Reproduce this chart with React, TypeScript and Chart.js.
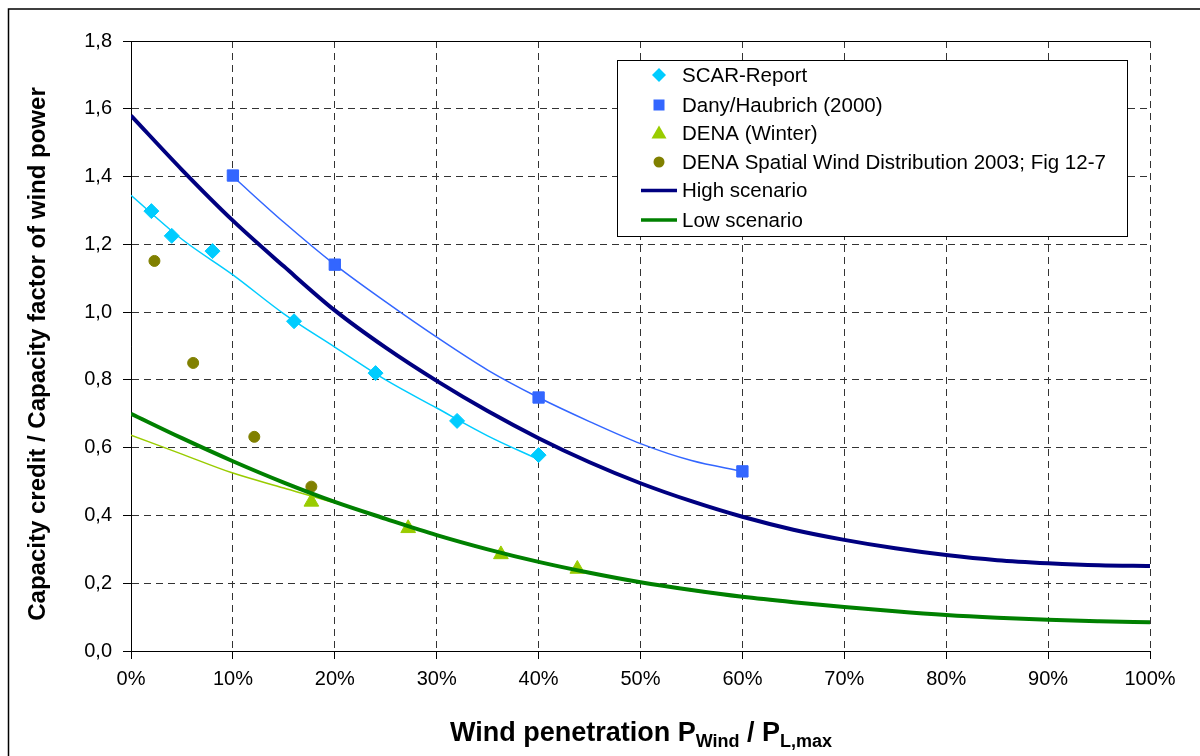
import React, { useEffect, useRef } from 'react';
import { Chart, registerables } from 'chart.js';

Chart.register(...registerables);

// ---------- data ----------
const scarX = [2, 4, 8, 16, 24, 32, 40];
const scarY = [1.298, 1.225, 1.18, 0.973, 0.82, 0.679, 0.578];

const danyX = [10, 20, 40, 60];
const danyY = [1.403, 1.14, 0.748, 0.53];

const denaWinterX = [17.7, 27.2, 36.3, 43.8];
const denaWinterY = [0.44, 0.362, 0.285, 0.242];

const denaSpatialX = [2.3, 6.1, 12.1, 17.7];
const denaSpatialY = [1.151, 0.85, 0.632, 0.485];

const scenarioX = [0, 5, 10, 15, 20, 25, 30, 35, 40, 45, 50, 55, 60, 65, 70, 75, 80, 85, 90, 95, 100];
const highY = [1.58, 1.42, 1.27, 1.135, 1.005, 0.895, 0.797, 0.708, 0.628, 0.557, 0.495, 0.442, 0.396, 0.358, 0.328, 0.303, 0.283, 0.268, 0.259, 0.253, 0.251];
const lowY = [0.7, 0.628, 0.56, 0.497, 0.44, 0.39, 0.342, 0.3, 0.263, 0.231, 0.203, 0.18, 0.16, 0.144, 0.13, 0.117, 0.106, 0.098, 0.092, 0.088, 0.085];

const scarTrendX = [0, 5, 10, 15, 20, 25, 30, 35, 40];
const scarTrendY = [1.345, 1.215, 1.11, 0.995, 0.897, 0.8, 0.717, 0.635, 0.565];

const danyTrendX = [10, 15, 20, 25, 30, 35, 40, 45, 50, 55, 60];
const danyTrendY = [1.4, 1.265, 1.14, 1.03, 0.926, 0.829, 0.748, 0.677, 0.612, 0.562, 0.53];

const denaTrendX = [0, 5, 10, 15, 20, 25, 30, 35, 40, 45, 50, 55, 60, 65, 70, 75, 80, 85, 89];
const denaTrendY = [0.637, 0.581, 0.525, 0.481, 0.437, 0.39, 0.343, 0.3, 0.262, 0.23, 0.202, 0.178, 0.158, 0.142, 0.128, 0.116, 0.105, 0.097, 0.092];

const legendLabels = [
  'SCAR-Report',
  'Dany/Haubrich (2000)',
  'DENA (Winter)',
  'DENA Spatial Wind Distribution 2003; Fig 12-7',
  'High scenario',
  'Low scenario',
];

const yTitle = 'Capacity credit / Capacity factor of wind power';
const xTitleParts = [
  { text: 'Wind penetration P', sub: false },
  { text: 'Wind', sub: true },
  { text: ' / P', sub: false },
  { text: 'L,max', sub: true },
];

const C_SCAR = '#00CCFF';
const C_DANY = '#3366FF';
const C_DENA = '#99CC00';
const C_SPATIAL = '#808000';
const C_HIGH = '#000080';
const C_LOW = '#008000';

const FONT = '"Liberation Sans", Arial, Helvetica, sans-serif';

const pts = (xs: number[], ys: number[]) => xs.map((x, i) => ({ x, y: ys[i] }));

const decorPlugin = {
  id: 'decor',
  afterDraw(chart: any) {
    const ctx: CanvasRenderingContext2D = chart.ctx;
    ctx.save();

    // outer frame (left + top)
    ctx.strokeStyle = '#000';
    ctx.lineWidth = 1.5;
    ctx.beginPath();
    ctx.moveTo(1200, 9);
    ctx.lineTo(8.5, 9);
    ctx.lineTo(8.5, 756);
    ctx.stroke();

    // legend box
    const bx = 617.5, by = 60.5, bw = 510, bh = 176;
    ctx.fillStyle = '#fff';
    ctx.fillRect(bx, by, bw, bh);
    ctx.lineWidth = 1;
    ctx.strokeStyle = '#000';
    ctx.strokeRect(bx, by, bw, bh);

    const rowsY = [75, 105, 133, 162, 190.5, 220];
    const mx = 659;
    // diamond
    ctx.fillStyle = C_SCAR;
    ctx.beginPath();
    ctx.moveTo(mx, rowsY[0] - 7);
    ctx.lineTo(mx + 7, rowsY[0]);
    ctx.lineTo(mx, rowsY[0] + 7);
    ctx.lineTo(mx - 7, rowsY[0]);
    ctx.closePath();
    ctx.fill();
    // square
    ctx.fillStyle = C_DANY;
    ctx.fillRect(mx - 5.5, rowsY[1] - 5.5, 11, 11);
    // triangle
    ctx.fillStyle = C_DENA;
    ctx.beginPath();
    ctx.moveTo(mx, rowsY[2] - 7.5);
    ctx.lineTo(mx + 7.5, rowsY[2] + 5.5);
    ctx.lineTo(mx - 7.5, rowsY[2] + 5.5);
    ctx.closePath();
    ctx.fill();
    // circle
    ctx.fillStyle = C_SPATIAL;
    ctx.beginPath();
    ctx.arc(mx, rowsY[3], 5.5, 0, Math.PI * 2);
    ctx.fill();
    // lines
    ctx.lineWidth = 3.5;
    ctx.strokeStyle = C_HIGH;
    ctx.beginPath();
    ctx.moveTo(641, rowsY[4]);
    ctx.lineTo(677, rowsY[4]);
    ctx.stroke();
    ctx.strokeStyle = C_LOW;
    ctx.beginPath();
    ctx.moveTo(641, rowsY[5]);
    ctx.lineTo(677, rowsY[5]);
    ctx.stroke();

    ctx.fillStyle = '#000';
    ctx.font = `20.5px ${FONT}`;
    ctx.textAlign = 'left';
    ctx.textBaseline = 'middle';
    legendLabels.forEach((t, i) => ctx.fillText(t, 682, rowsY[i] + 1));

    // y title
    ctx.save();
    ctx.translate(45, 354);
    ctx.rotate(-Math.PI / 2);
    ctx.font = `bold 24px ${FONT}`;
    ctx.textAlign = 'center';
    ctx.textBaseline = 'alphabetic';
    ctx.fillText(yTitle, 0, 0);
    ctx.restore();

    // x title with subscripts
    const mainFont = `bold 27px ${FONT}`;
    const subFont = `bold 18px ${FONT}`;
    let total = 0;
    const widths = xTitleParts.map((p) => {
      ctx.font = p.sub ? subFont : mainFont;
      const w = ctx.measureText(p.text).width;
      total += w;
      return w;
    });
    let x = 641 - total / 2;
    ctx.textAlign = 'left';
    ctx.textBaseline = 'alphabetic';
    xTitleParts.forEach((p, i) => {
      ctx.font = p.sub ? subFont : mainFont;
      ctx.fillText(p.text, x, p.sub ? 747 : 741);
      x += widths[i];
    });

    ctx.restore();
  },
};

export default function App() {
  const ref = useRef<HTMLCanvasElement | null>(null);

  useEffect(() => {
    if (!ref.current) return;
    const lineDs = (label: string, data: any, color: string, width: number) => ({
      label,
      data,
      showLine: true,
      borderColor: color,
      backgroundColor: color,
      borderWidth: width,
      pointRadius: 0,
      pointHoverRadius: 0,
      cubicInterpolationMode: 'monotone' as const,
      fill: false,
    });
    const ptDs = (label: string, data: any, color: string, style: string, radius: number) => ({
      label,
      data,
      showLine: false,
      pointStyle: style,
      pointRadius: radius,
      pointHoverRadius: radius,
      backgroundColor: color,
      borderColor: color,
      pointBorderWidth: 1,
    });

    const chart = new Chart(ref.current, {
      type: 'scatter',
      data: {
        datasets: [
          lineDs('Low scenario', pts(scenarioX, lowY), C_LOW, 4),
          lineDs('High scenario', pts(scenarioX, highY), C_HIGH, 4),
          ptDs('SCAR-Report', pts(scarX, scarY), C_SCAR, 'rectRot', 7.5),
          ptDs('Dany/Haubrich (2000)', pts(danyX, danyY), C_DANY, 'rect', 8),
          ptDs('DENA (Winter)', pts(denaWinterX, denaWinterY), C_DENA, 'triangle', 8.5),
          ptDs('DENA Spatial Wind Distribution 2003; Fig 12-7', pts(denaSpatialX, denaSpatialY), C_SPATIAL, 'circle', 5.5),
          lineDs('SCAR trend', pts(scarTrendX, scarTrendY), C_SCAR, 1.5),
          lineDs('Dany trend', pts(danyTrendX, danyTrendY), C_DANY, 1.5),
          lineDs('DENA trend', pts(denaTrendX, denaTrendY), C_DENA, 1.5),
        ] as any,
      },
      options: {
        responsive: false,
        maintainAspectRatio: false,
        animation: false,
        devicePixelRatio: 1,
        layout: { padding: { top: 41, right: 50, left: 0, bottom: 0 } },
        plugins: {
          legend: { display: false },
          tooltip: { enabled: false },
          title: { display: false },
        },
        scales: {
          x: {
            type: 'linear',
            position: 'bottom',
            min: 0,
            max: 100,
            afterFit: (s: any) => {
              s.height = 105;
            },
            ticks: {
              stepSize: 10,
              callback: (v: any) => `${v}%`,
              color: '#000',
              font: { family: FONT, size: 20 },
              padding: 8,
              maxRotation: 0,
              autoSkip: false,
            },
            grid: { color: '#333', lineWidth: 1, tickLength: 8, tickColor: '#000' },
            border: { display: true, color: '#000', width: 1, dash: [7, 5] },
          },
          y: {
            type: 'linear',
            min: 0,
            max: 1.8,
            afterFit: (s: any) => {
              s.width = 131;
            },
            ticks: {
              stepSize: 0.2,
              callback: (v: any) => Number(v).toFixed(1).replace('.', ','),
              color: '#000',
              font: { family: FONT, size: 20 },
              padding: 11,
            },
            grid: { color: (c: any) => (c.tick && Math.abs(c.tick.value - 1.8) < 1e-6 ? '#000' : '#333'), lineWidth: 1, tickLength: 8, tickColor: '#000' },
            border: {
              display: true,
              color: '#000',
              width: 1,
              dash: (c: any) => (c.tick && Math.abs(c.tick.value - 1.8) < 1e-6 ? [] : [7, 5]),
            },
          },
        },
      } as any,
      plugins: [decorPlugin],
    });
    return () => chart.destroy();
  }, []);

  return (
    <div style={{ position: 'fixed', left: 0, top: 0, width: 1200, height: 756, background: '#fff' }}>
      <canvas ref={ref} width={1200} height={756} style={{ display: 'block', width: 1200, height: 756 }} />
    </div>
  );
}
